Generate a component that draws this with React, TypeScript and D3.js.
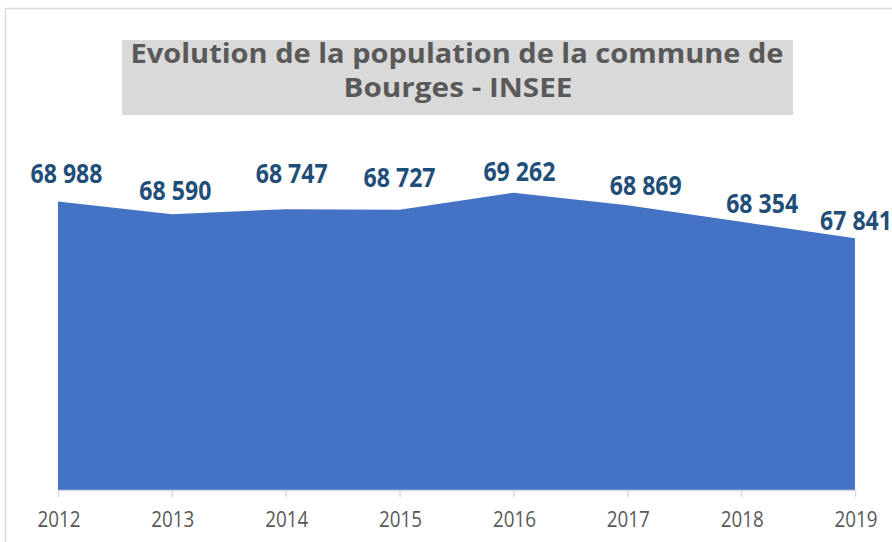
import React from "react";
import * as d3 from "d3";

const years = ["2012", "2013", "2014", "2015", "2016", "2017", "2018", "2019"];
const population = [68988, 68590, 68747, 68727, 69262, 68869, 68354, 67841];
const titleLines = ["Evolution de la population de la commune de", "Bourges - INSEE"];

// label placement tweaks (layout, not data)
const labelDx = [8.5, 3.5, 6, 0, 6, 18.5, 21, 1];
const labelDy = [-18.7, -14.5, -26.7, -22.7, -11.3, -10, -8.7, -8];

const W = 892;
const H = 542;

export default function App() {
  const x = d3.scalePoint<string>().domain(years).range([58, 855]);
  const y = d3.scaleLinear().domain([60000, 70000]).range([490, 169]);
  const data = years.map((yr, i) => ({ yr, v: population[i], i }));
  const area = d3
    .area<{ yr: string; v: number }>()
    .x((d) => x(d.yr) as number)
    .y0(y(60000))
    .y1((d) => y(d.v));
  const fmt = (v: number) => d3.format(",")(v).replace(/,/g, " ");

  return (
    <svg
      width={W}
      height={H}
      style={{ position: "absolute", left: 0, top: 0, background: "#fff" }}
    >
      <rect x={0} y={0} width={W} height={H} fill="#fff" />
      {/* chart frame */}
      <line x1={5} y1={8.5} x2={W} y2={8.5} stroke="#d9d9d9" strokeWidth={1.5} />
      <line x1={5.5} y1={8} x2={5.5} y2={H} stroke="#d9d9d9" strokeWidth={1.5} />

      {/* title */}
      <rect x={122} y={40} width={671} height={75} fill="#d9d9d9" />
      <text
        x={457}
        y={63}
        textAnchor="middle"
        fontFamily="'Open Sans', sans-serif"
        fontWeight="bold"
        fontSize={26.5}
        fill="#595959"
        textLength={653}
        lengthAdjust="spacingAndGlyphs"
      >
        {titleLines[0]}
      </text>
      <text
        x={458}
        y={96.5}
        textAnchor="middle"
        fontFamily="'Open Sans', sans-serif"
        fontWeight="bold"
        fontSize={26.5}
        fill="#595959"
        textLength={229}
        lengthAdjust="spacingAndGlyphs"
      >
        {titleLines[1]}
      </text>

      {/* area */}
      <path d={area(data) || ""} fill="#4472c4" />

      {/* axis */}
      <line x1={58} x2={855} y1={490.5} y2={490.5} stroke="#d9d9d9" strokeWidth={1.5} />
      {years.map((yr) => (
        <line
          key={"t" + yr}
          x1={(x(yr) as number) + 0.5}
          x2={(x(yr) as number) + 0.5}
          y1={490}
          y2={497}
          stroke="#d9d9d9"
          strokeWidth={1.5}
        />
      ))}
      {years.map((yr) => (
        <text
          key={"l" + yr}
          x={(x(yr) as number) + 1}
          y={526.5}
          textAnchor="middle"
          fontFamily="'Open Sans', sans-serif"
          fontSize={21}
          fill="#595959"
          textLength={43}
          lengthAdjust="spacingAndGlyphs"
        >
          {yr}
        </text>
      ))}

      {/* data labels */}
      {data.map((d) => (
        <text
          key={"d" + d.yr}
          x={(x(d.yr) as number) + labelDx[d.i]}
          y={y(d.v) + labelDy[d.i]}
          textAnchor="middle"
          fontFamily="'Open Sans', sans-serif"
          fontWeight="bold"
          fontSize={27}
          fill="#1f4e79"
          textLength={72}
          lengthAdjust="spacingAndGlyphs"
        >
          {fmt(d.v)}
        </text>
      ))}
    </svg>
  );
}
